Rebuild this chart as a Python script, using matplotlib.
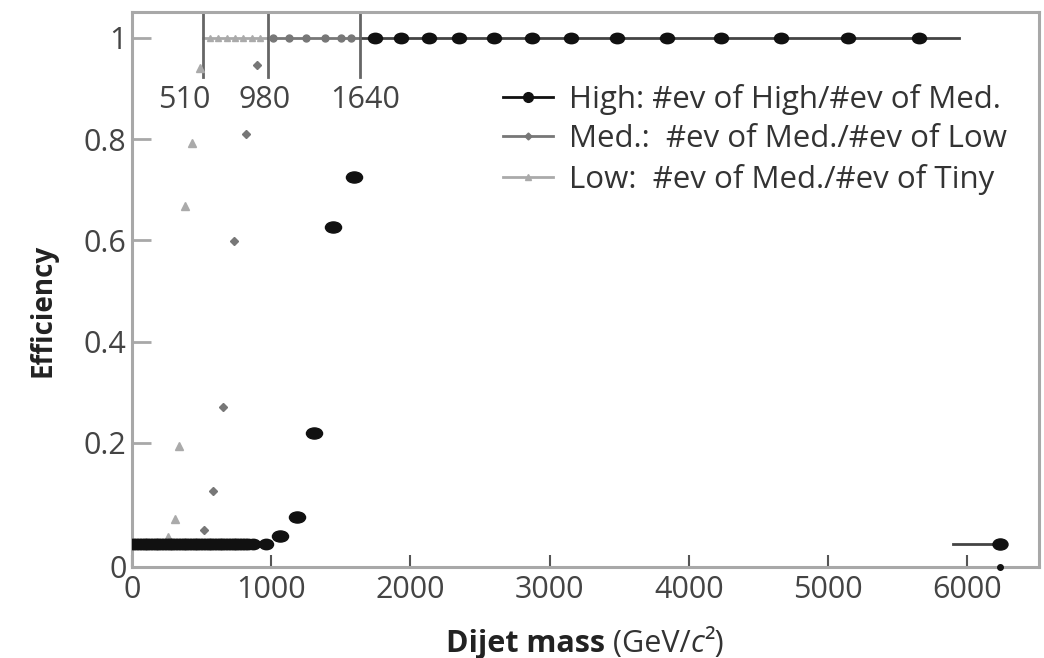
import matplotlib
matplotlib.use("Agg")
import matplotlib.pyplot as plt
from matplotlib.markers import MarkerStyle
from matplotlib.transforms import Affine2D

plt.rcParams['font.family'] = ['Open Sans', 'DejaVu Sans']

# ---------------- data ----------------
# High: #ev of High / #ev of Med.
high_low_x = [10, 30, 50, 70, 90, 110, 130, 150, 170, 190, 210, 230, 250, 270,
              290, 310, 330, 350, 370, 390, 410, 430, 450, 470, 490, 510, 530,
              550, 570, 590, 610, 630, 650, 670, 690, 710, 730, 750, 770, 790,
              810, 830, 869, 963]
high_low_y = [0.0] * 44
high_turn_x = [1063, 1185, 1307, 1442, 1595]
high_turn_y = [0.016, 0.053, 0.219, 0.627, 0.725]
high_plat_x = [1746, 1932, 2135, 2351, 2601, 2871, 3152, 3486, 3841, 4231,
               4662, 5146, 5656]
high_plat_y = [1.0] * 13
high_overflow_x = [5900, 6236]
high_overflow_y = [0.0, 0.0]
axis_dot_x = [6236]

# Med.: #ev of Med. / #ev of Low
med_x = [330, 400, 470, 520, 584, 656, 735, 817, 896]
med_y = [0.0, 0.0, 0.0, 0.028, 0.105, 0.27, 0.599, 0.81, 0.946]
med_plat_x = [1010, 1125, 1250, 1385, 1505, 1575]
med_plat_y = [1.0] * 6

# Low: #ev of Med. / #ev of Tiny
low_x = [150, 210, 261, 309, 340, 381, 431, 488]
low_y = [0.0, 0.0, 0.014, 0.049, 0.194, 0.667, 0.793, 0.94]
low_plat_x = [560, 620, 680, 740, 800, 860, 920]
low_plat_y = [1.0] * 7

thresholds = [510, 980, 1640]
threshold_labels = ["510", "980", "1640"]
plateau_end = 5940

x_ticks = [0, 1000, 2000, 3000, 4000, 5000, 6000]
y_ticks = [0.2, 0.4, 0.6, 0.8, 1.0]
y_tick_labels = ["0", "0.2", "0.4", "0.6", "0.8", "1"]

legend_labels = ["High: #ev of High/#ev of Med.",
                 "Med.:  #ev of Med./#ev of Low",
                 "Low:  #ev of Med./#ev of Tiny"]

# ---------------- style ----------------
c_high = "#111111"
c_high_line = "#444444"
c_med = "#777777"
c_low = "#aaaaaa"
spine_c = "#a8a8a8"
FS = 22

ell = MarkerStyle('o', transform=Affine2D().scale(1.35, 1.0))
ell_big = MarkerStyle('o', transform=Affine2D().scale(1.45, 1.0))

fig = plt.figure(figsize=(10.44, 6.58), dpi=100)
ax = fig.add_axes([132 / 1044, 1 - 567 / 658, (1039 - 132) / 1044, (567 - 12) / 658])
ylo, yhi = -0.0455, 1.051
ax.set_xlim(0, 6516)
ax.set_ylim(ylo, yhi)

# plateau lines
ax.plot([thresholds[0], thresholds[1]], [1, 1], color=c_low, lw=2, zorder=2)
ax.plot([thresholds[1], thresholds[2]], [1, 1], color=c_med, lw=2, zorder=2)
ax.plot([thresholds[2], plateau_end], [1, 1], color=c_high_line, lw=2, zorder=2)

# Low series
ax.plot(low_x, low_y, ls='none', marker='^', ms=6, color=c_low, zorder=3)
ax.plot(low_plat_x, low_plat_y, ls='none', marker='^', ms=4.5, color=c_low, zorder=3)
# Med series
ax.plot(med_x, med_y, ls='none', marker='D', ms=4, color=c_med, zorder=3)
ax.plot(med_plat_x, med_plat_y, ls='none', marker='o', ms=5, color=c_med, zorder=3)
# High series
ax.plot(high_low_x, high_low_y, ls='none', marker=ell, ms=7.5, color=c_high, zorder=4)
ax.plot(high_turn_x, high_turn_y, ls='none', marker=ell_big, ms=8, color=c_high, zorder=4)
ax.plot(high_plat_x, high_plat_y, ls='none', marker=ell, ms=7.5, color=c_high, zorder=4)
ax.plot(high_overflow_x, high_overflow_y, color=c_high_line, lw=2, zorder=3)
ax.plot(high_overflow_x[-1:], high_overflow_y[-1:], ls='none', marker=ell, ms=8,
        color=c_high, zorder=4)
ax.plot(axis_dot_x, [ylo], ls='none', marker='o', ms=4, color=c_high, zorder=5,
        clip_on=False)

# threshold lines and labels
y_line_lo = 0.923
frac = (y_line_lo - ylo) / (yhi - ylo)
for t in thresholds:
    ax.axvline(t, ymin=frac, ymax=1, color="#666666", lw=2, zorder=2)
label_offsets = [-19, -4, 5]
for t, lab, off in zip(thresholds, threshold_labels, label_offsets):
    ax.annotate(lab, xy=(t, 0.877), xytext=(off, 0), textcoords='offset pixels',
                ha='center', va='center', fontsize=FS, color="#444444")

# legend (proxy handles)
h1, = ax.plot([], [], color=c_high, lw=2, marker='o', ms=7)
h2, = ax.plot([], [], color=c_med, lw=2, marker='D', ms=3.5)
h3, = ax.plot([], [], color=c_low, lw=2, marker='^', ms=5)
leg = ax.legend([h1, h2, h3], legend_labels, loc='upper left',
                bbox_to_anchor=((503 - 132) / (1039 - 132), 1 - (84 - 12) / (567 - 12)),
                frameon=False, fontsize=22.5, handlelength=1.6, handletextpad=0.5,
                labelspacing=0.3, borderaxespad=0, borderpad=0)
for txt in leg.get_texts():
    txt.set_color("#333333")

# axes styling
for s in ax.spines.values():
    s.set_color(spine_c)
    s.set_linewidth(2.2)
ax.set_xticks(x_ticks)
ax.set_xticklabels([str(v) for v in x_ticks])
ax.set_yticks([ylo] + y_ticks)
ax.set_yticklabels(y_tick_labels)
ax.tick_params(axis='x', direction='in', length=9, width=1.5, color="#555555",
               labelsize=FS, labelcolor="#444444", pad=6)
ax.tick_params(axis='y', direction='in', length=14, width=2, color=spine_c,
               labelsize=FS, labelcolor="#444444", pad=4)

# axis labels
ax.set_ylabel("Efficiency", fontsize=20, fontweight='bold', color="#222222")
ax.yaxis.set_label_coords((58 - 132) / 907, (567 - 310) / 555)

fig.canvas.draw()
r = fig.canvas.get_renderer()
t1 = fig.text(0, 0, "Dijet mass", fontsize=22, fontweight='bold', color="#222222")
t2 = fig.text(0, 0, " (GeV/", fontsize=22, color="#333333")
t3 = fig.text(0, 0, "c", fontsize=22, style='italic', color="#333333")
t4 = fig.text(0, 0, "²)", fontsize=22, color="#333333")
parts = [t1, t2, t3, t4]
widths = [p.get_window_extent(r).width for p in parts]
total = sum(widths)
cx = 585
x0 = cx - total / 2
yb = 658 - 652
for p, w in zip(parts, widths):
    p.set_position((x0 / 1044, yb / 658))
    x0 += w

fig.savefig("out.png", dpi=100)
